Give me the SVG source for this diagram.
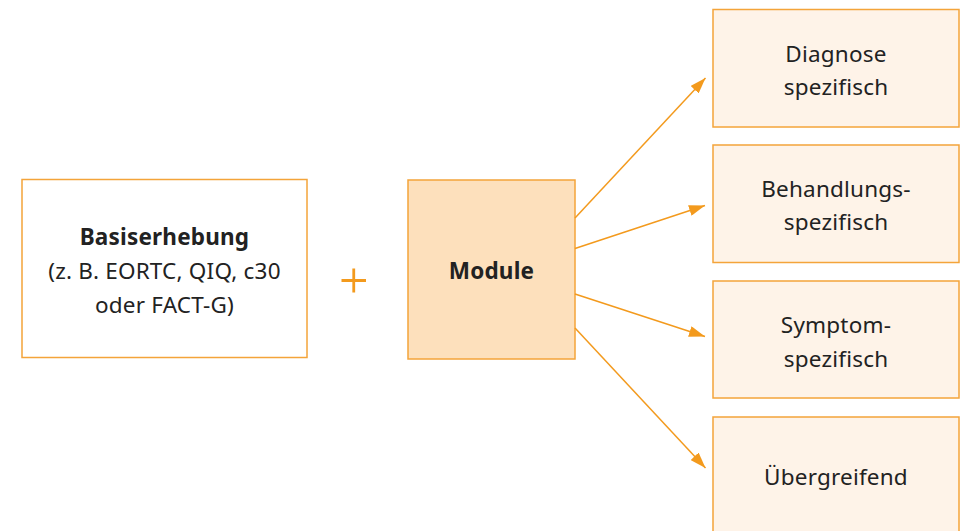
<svg xmlns="http://www.w3.org/2000/svg" width="962" height="531" viewBox="0 0 962 531">
<defs>
<style>
.box{stroke:#f4a43a;stroke-width:1.5}
.t{font-family:"Noto Sans","Open Sans",sans-serif;font-size:22.5px;fill:#222;text-anchor:middle;letter-spacing:0.2px}
.b{font-weight:bold}
.c{stroke:#f39a1d;stroke-width:1.5;fill:none}
</style>
<marker id="ah" viewBox="0 0 16 11" refX="16" refY="5.5" markerWidth="16" markerHeight="11" markerUnits="userSpaceOnUse" orient="auto">
<path d="M0,0 L16,5.5 L0,11 z" fill="#f39a1d"/>
</marker>
</defs>
<rect width="962" height="531" fill="#fff"/>
<g id="basis">
<rect class="box" x="22" y="179.5" width="285" height="178" fill="#fff"/>
<text class="t b" x="164.5" y="245">Basiserhebung</text>
<text class="t" x="164.5" y="279">(z. B. EORTC, QIQ, c30</text>
<text class="t" x="164.5" y="313">oder FACT-G)</text>
</g>
<g id="plus">
<path d="M341.5,280.5 H366 M353.75,268.5 V292.5" stroke="#f39a1d" stroke-width="2.8"/>
</g>
<g id="module">
<rect class="box" x="408" y="180" width="167" height="179" fill="#fde0bc"/>
<text class="t b" x="491.5" y="279">Module</text>
</g>
<g id="diagnose">
<rect class="box" x="713" y="9.5" width="246" height="117.5" fill="#fef3e8"/>
<text class="t" x="836" y="62">Diagnose</text>
<text class="t" x="836" y="95">spezifisch</text>
</g>
<g id="behandlung">
<rect class="box" x="713" y="145" width="246" height="117.5" fill="#fef3e8"/>
<text class="t" x="836" y="197">Behandlungs-</text>
<text class="t" x="836" y="230">spezifisch</text>
</g>
<g id="symptom">
<rect class="box" x="713" y="281" width="246" height="117" fill="#fef3e8"/>
<text class="t" x="836" y="333">Symptom-</text>
<text class="t" x="836" y="367">spezifisch</text>
</g>
<g id="uebergreifend">
<rect class="box" x="713" y="417" width="246" height="120" fill="#fef3e8"/>
<text class="t" x="836" y="485">Übergreifend</text>
</g>
<g id="connectors">
<line class="c" x1="575" y1="218" x2="705.5" y2="78" marker-end="url(#ah)"/>
<line class="c" x1="575" y1="248.5" x2="705" y2="205.5" marker-end="url(#ah)"/>
<line class="c" x1="575" y1="294" x2="705" y2="336.5" marker-end="url(#ah)"/>
<line class="c" x1="575" y1="328" x2="705.5" y2="468" marker-end="url(#ah)"/>
</g>
</svg>
